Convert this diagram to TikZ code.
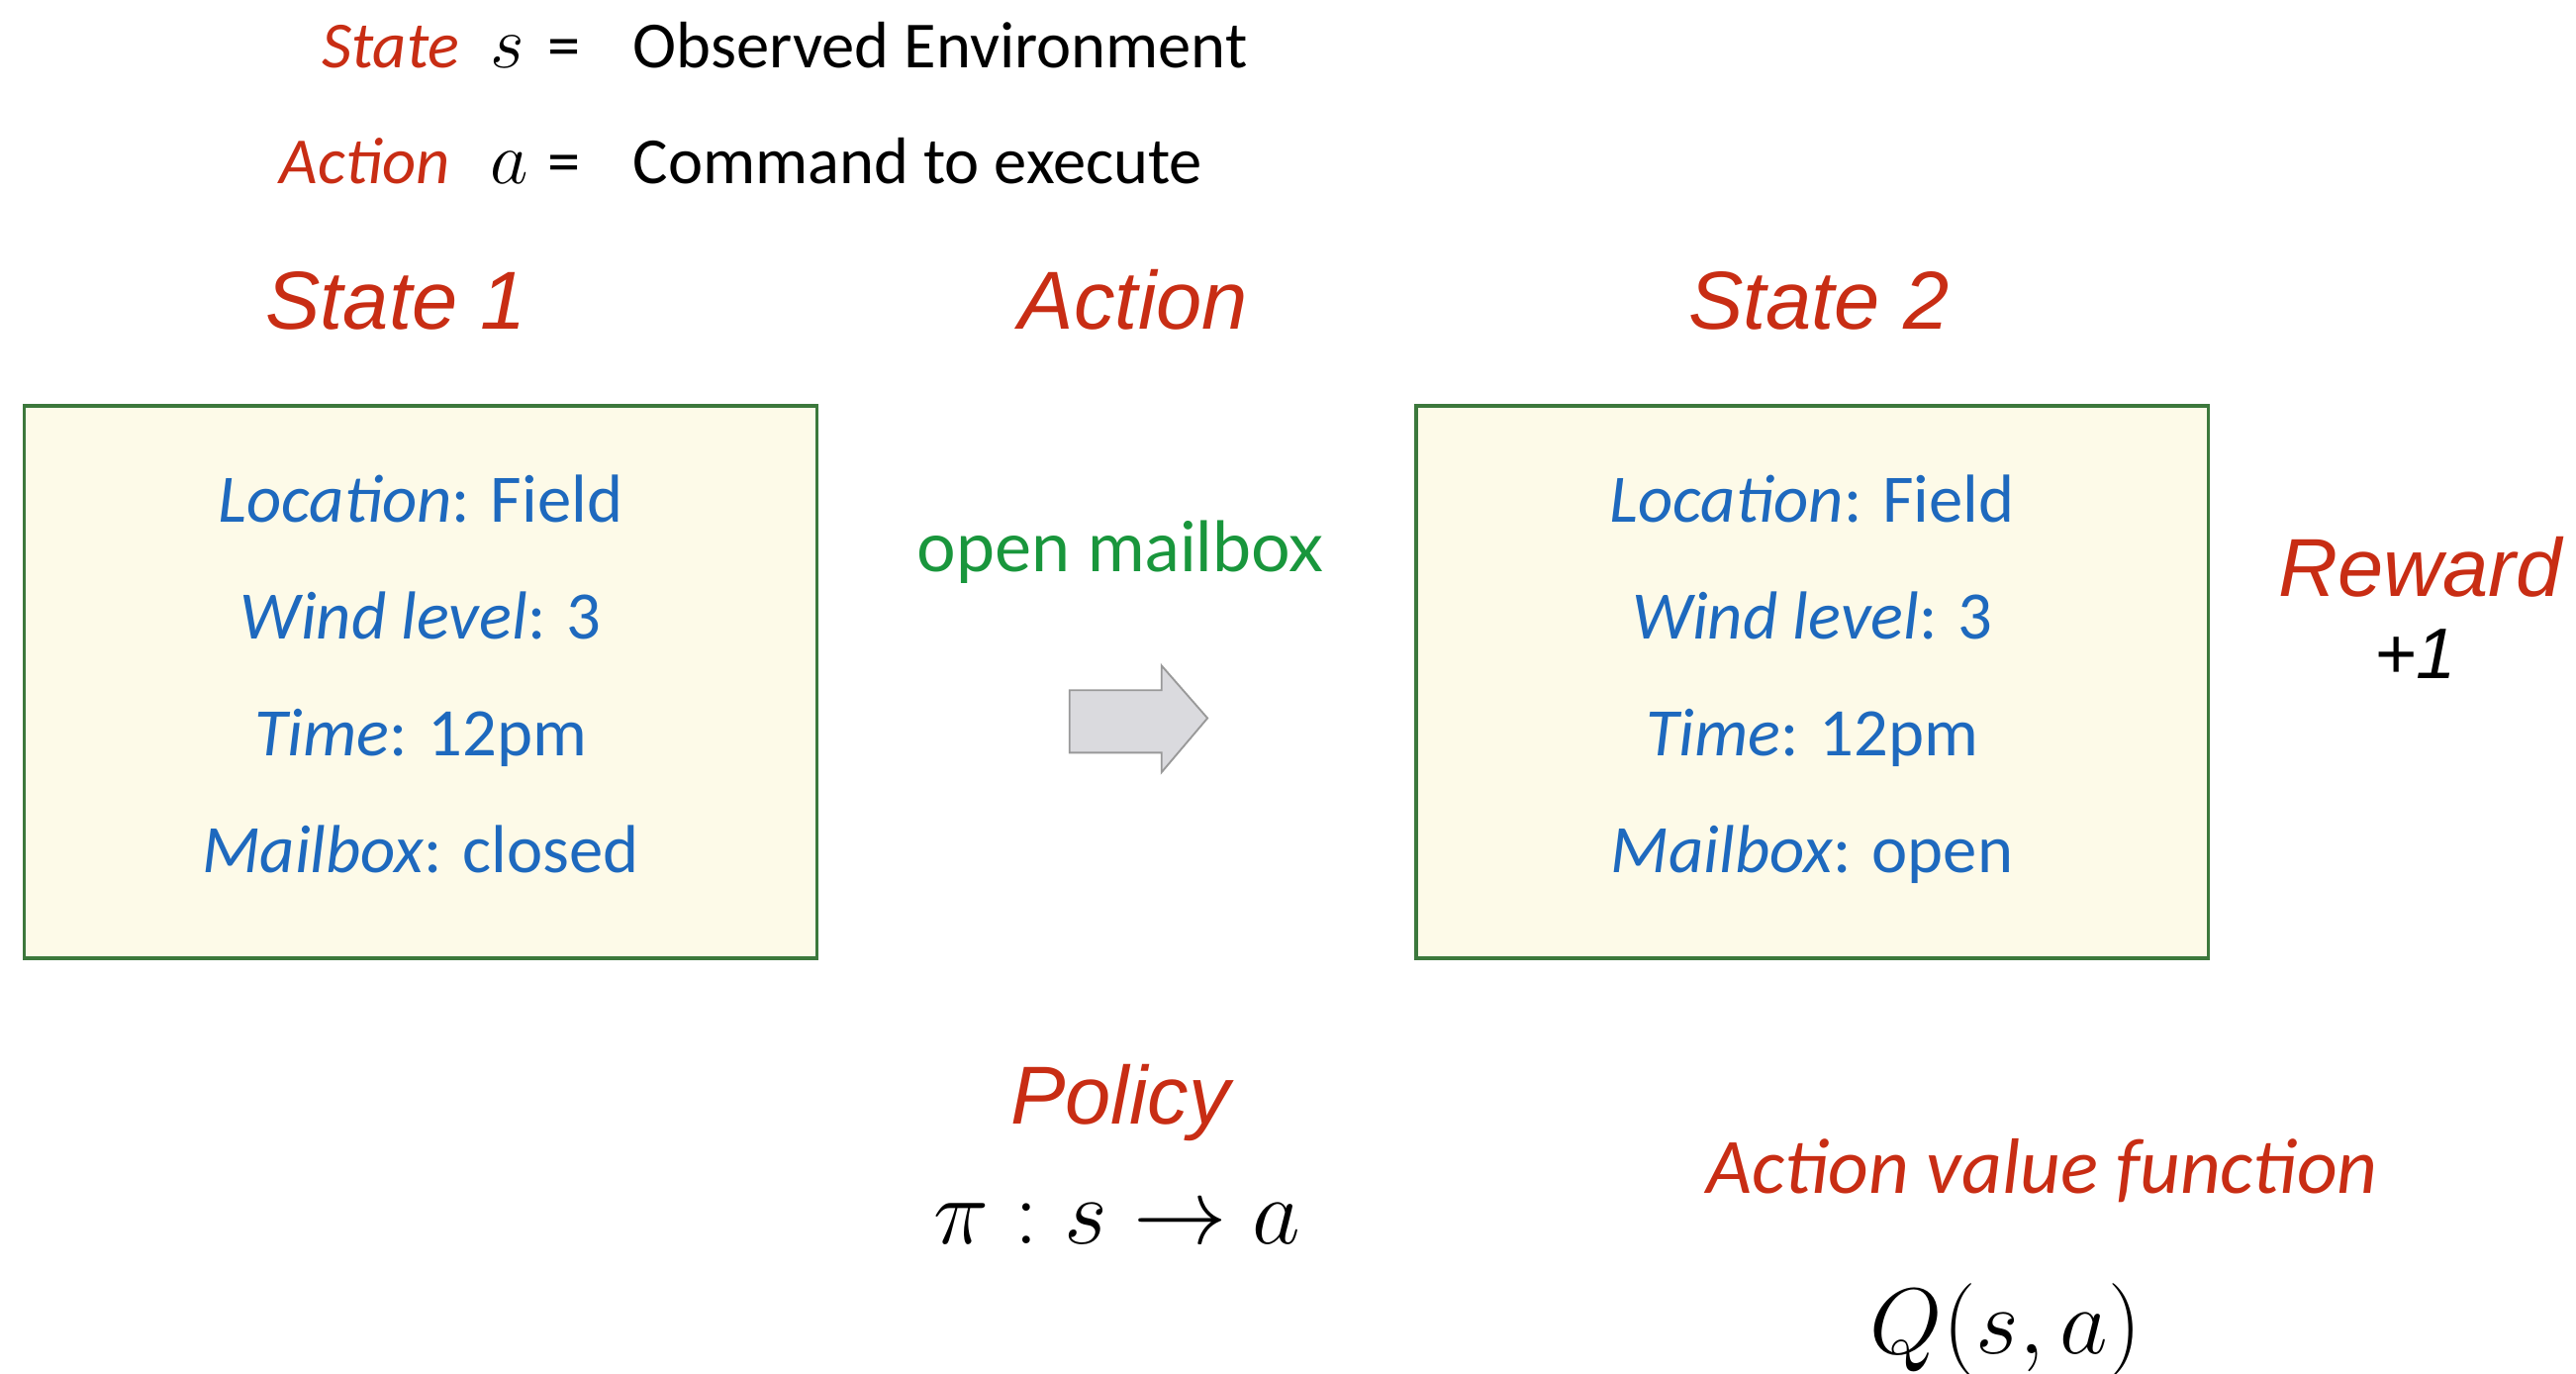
\RequirePackage{fix-cm}
\documentclass[tikz,border=0pt]{standalone}
\usepackage{fontspec}
\setmainfont{Carlito}
\newfontfamily\helvfont{Liberation Sans}
\newfontfamily\gillfont{Lato}
\usetikzlibrary{positioning}

\definecolor{redtxt}{RGB}{200,45,20}
\definecolor{bluetxt}{RGB}{30,105,190}
\definecolor{greentxt}{RGB}{25,150,60}
\definecolor{boxedge}{RGB}{60,120,60}
\definecolor{boxfill}{RGB}{253,250,232}
\definecolor{arrowfill}{RGB}{218,218,222}

\begin{document}
\begin{tikzpicture}[x=0.025cm, y=-0.025cm,
    bigred/.style={font=\helvfont\itshape\fontsize{35.6}{40}\selectfont, text=redtxt, anchor=base, inner sep=0pt},
    defword/.style={font=\itshape\fontsize{28.5}{32}\selectfont, text=redtxt, anchor=base east, inner sep=0pt},
    deftext/.style={font=\fontsize{28.5}{32}\selectfont, anchor=base west, inner sep=0pt},
    statebox/.style={draw=boxedge, line width=1.4pt, fill=boxfill, minimum width=12.05cm, minimum height=8.4cm, inner sep=0pt},
    boxline/.style={font=\fontsize{29.4}{32}\selectfont, text=bluetxt, anchor=base, inner sep=0pt},
    mathbig/.style={font=\fontsize{40.5}{44}\selectfont, anchor=base, inner sep=0pt}]
    \useasboundingbox (0, 0) rectangle (1568, 836);

    % Definitions
    \node[defword] (sword) at (280, 41) {State};
    \node[deftext, font=\fontsize{32}{36}\selectfont] (ssym) at (298, 41) {$s$};
    \node[deftext] (seq) at (333, 41) {=};
    \node[deftext] (sdef) at (385, 41) {Observed Environment};
    \node[defword] (aword) at (274, 112) {Action};
    \node[deftext, font=\fontsize{32}{36}\selectfont] (asym) at (298, 112) {$a$};
    \node[deftext] (aeq) at (333, 112) {=};
    \node[deftext] (adef) at (385, 112) {Command to execute};

    % Titles
    \node[bigred] (t1) at (241, 200) {State 1};
    \node[bigred] (ta) at (690, 200) {Action};
    \node[bigred] (t2) at (1107, 200) {State 2};

    % State boxes
    \node[statebox] (s1) at (256, 415) {};
    \node[statebox] (s2) at (1103, 415) {};
    \foreach \txt [count=\i] in {\textit{Location}: Field, \textit{Wind level}: 3, \textit{Time}: 12pm, \textit{Mailbox}: closed}
        \node[boxline] (s1l\i) at (256, 247+71*\i) {\txt};
    \foreach \txt [count=\i] in {\textit{Location}: Field, \textit{Wind level}: 3, \textit{Time}: 12pm, \textit{Mailbox}: open}
        \node[boxline] (s2l\i) at (1103, 247+71*\i) {\txt};

    % Action taken
    \node[font=\gillfont\fontsize{30}{34}\selectfont, text=greentxt, anchor=base, inner sep=0pt] (act) at (682, 348) {open mailbox};
    \draw[gray!80, line width=0.8pt, fill=arrowfill] (651, 420) -- (707, 420) -- (707, 405) -- (735, 437)
        -- (707, 470) -- (707, 458) -- (651, 458) -- cycle;

    % Reward
    \node[bigred] (rw) at (1473, 363) {Reward};
    \node[font=\helvfont\itshape\fontsize{31}{34}\selectfont, anchor=base, inner sep=0pt] (rv) at (1470, 413) {+1};

    % Policy and value
    \node[bigred] (pol) at (682, 684) {Policy};
    \node[mathbig] (pimap) at (680, 757) {$\pi : s \rightarrow a$};
    \node[font=\itshape\fontsize{34}{38}\selectfont, text=redtxt, anchor=base, inner sep=0pt] (avf) at (1243, 726) {Action value function};
    \node[mathbig] (qsa) at (1221, 824) {$Q(s,a)$};
\end{tikzpicture}
\end{document}
